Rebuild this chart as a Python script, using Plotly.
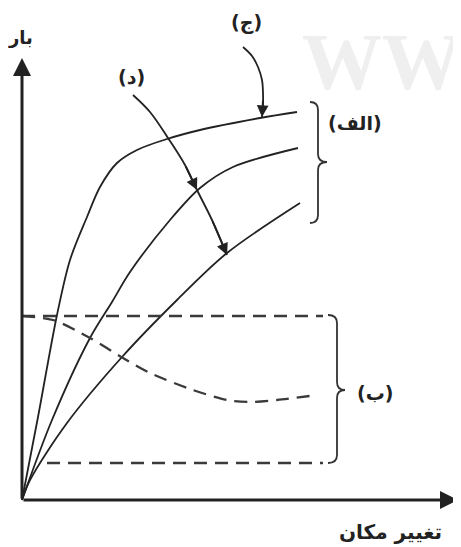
import plotly.graph_objects as go

# ---- data (displacement, load) — origin at the axes corner ----
curve_c_x = [0, 16, 35, 48, 65, 78, 95, 115, 145, 178, 238, 275]
curve_c_y = [0, 83, 185, 240, 283, 313, 337, 350, 361, 370, 382, 388]

curve_mid_x = [0, 30, 68, 90, 108, 148, 178, 211, 276]
curve_mid_y = [0, 80, 162, 198, 228, 280, 312, 333, 352]

curve_low_x = [0, 8, 45, 100, 155, 205, 278]
curve_low_y = [0, 20, 77, 143, 200, 247, 297]

dash_top_x = [0, 301]
dash_top_y = [184, 184]
dash_low_x = [25, 301]
dash_low_y = [37, 37]
dash_mid_x = [0, 31, 68, 101, 128, 171, 205, 228, 255, 295]
dash_mid_y = [184, 180, 162, 142, 127, 110, 100, 98, 100, 105]

arrow_c_x = [221, 230, 236, 240, 241, 241, 240]
arrow_c_y = [453, 444, 433, 420, 407, 395, 383]
arrow_d_x = [111, 128, 146, 163, 175, 190, 205]
arrow_d_y = [405, 388, 362, 335, 310, 280, 245]

INK = '#222222'
FONT = 'DejaVu Sans'

fig = go.Figure()

for xs, ys in [(curve_c_x, curve_c_y), (curve_mid_x, curve_mid_y), (curve_low_x, curve_low_y)]:
    fig.add_trace(go.Scatter(x=xs, y=ys, mode='lines',
                             line=dict(color=INK, width=1.8, shape='spline', smoothing=0.9),
                             hoverinfo='skip', showlegend=False))

for xs, ys, shp in [(dash_top_x, dash_top_y, 'linear'), (dash_low_x, dash_low_y, 'linear'),
                    (dash_mid_x, dash_mid_y, 'spline')]:
    fig.add_trace(go.Scatter(x=xs, y=ys, mode='lines',
                             line=dict(color='#3a3a3a', width=2.3, dash='13px,8px', shape=shp, smoothing=0.8),
                             hoverinfo='skip', showlegend=False))

for xs, ys in [(arrow_c_x, arrow_c_y), (arrow_d_x, arrow_d_y)]:
    fig.add_trace(go.Scatter(x=xs, y=ys, mode='lines', line=dict(color=INK, width=1.8, shape='spline'),
                             hoverinfo='skip', showlegend=False))

annotations = []


def arrow(x, y, ax, ay, width=1.8, size=1.3):
    annotations.append(dict(x=x, y=y, ax=ax, ay=ay, xref='x', yref='y', axref='x', ayref='y',
                            text='', showarrow=True, arrowhead=2, arrowsize=size,
                            arrowwidth=width, arrowcolor=INK))


# axes with arrowheads
arrow(0, 442, 0, 0, width=3, size=1.2)
arrow(436, 0, 0, 0, width=3, size=1.2)
# pointer arrowheads
arrow(arrow_c_x[-1], arrow_c_y[-1], arrow_c_x[-2], arrow_c_y[-2] + 6)
arrow(arrow_d_x[4], arrow_d_y[4], arrow_d_x[3], arrow_d_y[3])
arrow(arrow_d_x[-1], arrow_d_y[-1], arrow_d_x[-2], arrow_d_y[-2])


def label(text, x, y, size=19):
    annotations.append(dict(x=x, y=y, xref='x', yref='y', text=f'<b>{text}</b>', showarrow=False,
                            font=dict(family=FONT, size=size, color=INK)))


label('بار', -2, 463, 18)
label('تغییر مکان', 368, -32, 20)
label('(ج)', 224, 478)
label('(د)', 109, 423)
label('(الف)', 333, 377)
label('(ب)', 353, 107)

# faint watermark (runs off the right edge, as in the source)
annotations.append(dict(x=278, y=438, xref='x', yref='y', xanchor='left', yanchor='middle',
                        text='<b>WWWW</b>', showarrow=False,
                        font=dict(family='Liberation Serif', size=80, color='#efefef')))

brace_a = ('M 288,398 Q 296,398 296,390 L 296,346 Q 296,338 305,338 '
           'Q 296,338 296,330 L 296,285 Q 296,277 288,277')
brace_b = ('M 306,185 Q 315,185 315,177 L 315,118 Q 315,110 323,110 '
           'Q 315,110 315,102 L 315,45 Q 315,37 306,37')
shapes = [dict(type='path', path=p, xref='x', yref='y', line=dict(color='#333333', width=1.8))
          for p in (brace_a, brace_b)]

# the page body adds an 8px margin, so the ranges are shifted to compensate
fig.update_layout(
    width=461, height=547,
    margin=dict(l=0, r=0, t=0, b=0),
    paper_bgcolor='white', plot_bgcolor='white',
    xaxis=dict(range=[-14, 447], visible=False, fixedrange=True),
    yaxis=dict(range=[-55, 492], visible=False, fixedrange=True),
    annotations=annotations,
    shapes=shapes,
    showlegend=False,
)

fig.write_html("out.html")
